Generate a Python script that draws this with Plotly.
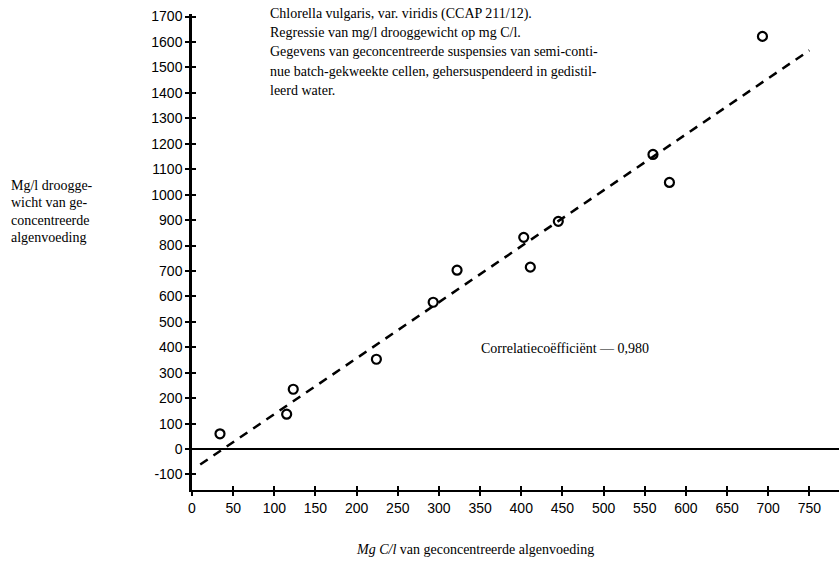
import plotly.graph_objects as go

# Measured pairs: carbon content (mg C/l) vs dry weight (mg/l)
carbon_mg_l = [34, 115, 123, 224, 293, 322, 403, 411, 445, 560, 580, 693]
dry_weight_mg_l = [60, 137, 235, 353, 577, 703, 832, 715, 895, 1158, 1048, 1622]

# Regression of dry weight on carbon
reg_slope = 2.2
reg_intercept = -83.0
reg_x = [10, 750]

x_ticks = list(range(0, 751, 50))
y_ticks = list(range(-100, 1701, 100))

info_lines = [
    "Chlorella vulgaris, var. viridis (CCAP 211/12).",
    "Regressie van mg/l drooggewicht op mg C/l.",
    "Gegevens van geconcentreerde suspensies van semi-conti-",
    "nue batch-gekweekte cellen, gehersuspendeerd in gedistil-",
    "leerd water.",
]
ylabel_lines = ["Mg/l droogge-", "wicht van ge-", "concentreerde", "algenvoeding"]
corr_text = "Correlatiecoëfficiënt — 0,980"
xlabel = "<i>Mg C/l</i> van geconcentreerde algenvoeding"

W, H = 839, 564
ML, MR, MT, MB = 192, 0, 14, 74
PW, PH = W - ML - MR, H - MT - MB


def px(xp):
    return (xp - ML) / PW


def py(yp):
    return 1 - (yp - MT) / PH


serif = "Liberation Serif"
sans = "Liberation Sans"

fig = go.Figure()

reg_y = [reg_intercept + reg_slope * v for v in reg_x]
fig.add_trace(go.Scatter(
    x=reg_x, y=reg_y, mode="lines",
    line=dict(color="black", width=2.5, dash="9px,7px"),
    hoverinfo="skip", showlegend=False,
))

# zero line across the full width
fig.add_trace(go.Scatter(
    x=[0, 790], y=[0, 0], mode="lines",
    line=dict(color="black", width=2),
    hoverinfo="skip", showlegend=False,
))

fig.add_trace(go.Scatter(
    x=carbon_mg_l, y=dry_weight_mg_l, mode="markers",
    marker=dict(symbol="circle-open", size=9, color="black", line=dict(width=2.2)),
    showlegend=False,
))

annotations = []
for i, t in enumerate(info_lines):
    annotations.append(dict(
        text=t, xref="paper", yref="paper", x=px(268), y=py(14 + 19 * i),
        xanchor="left", yanchor="middle", showarrow=False,
        font=dict(family=serif, size=14, color="black"),
    ))
for i, t in enumerate(ylabel_lines):
    annotations.append(dict(
        text=t, xref="paper", yref="paper", x=px(9), y=py(185 + 17.5 * i),
        xanchor="left", yanchor="middle", showarrow=False,
        font=dict(family=serif, size=14, color="black"),
    ))
annotations.append(dict(
    text=corr_text, xref="paper", yref="paper", x=px(479), y=py(348),
    xanchor="left", yanchor="middle", showarrow=False,
    font=dict(family=serif, size=14, color="black"),
))
annotations.append(dict(
    text=xlabel, xref="paper", yref="paper", x=px(475), y=py(549),
    xanchor="center", yanchor="middle", showarrow=False,
    font=dict(family=serif, size=14, color="black"),
))

tick_font = dict(family=sans, size=14, color="black")

fig.update_layout(
    width=W, height=H,
    margin=dict(l=ML, r=MR, t=MT, b=MB),
    paper_bgcolor="white", plot_bgcolor="white",
    annotations=annotations,
    xaxis=dict(
        range=[0, 786], tickvals=x_ticks, ticktext=[str(v) for v in x_ticks],
        showgrid=False, zeroline=False, showline=True, linecolor="black", linewidth=2,
        ticks="outside", ticklen=4, tickwidth=1.5, tickcolor="black",
        tickfont=tick_font,
    ),
    xaxis2=dict(
        range=[0, 786], overlaying="x", side="bottom", tickvals=x_ticks,
        showticklabels=False, showgrid=False, zeroline=False, showline=False,
        ticks="inside", ticklen=4, tickwidth=1.5, tickcolor="black",
    ),
    yaxis=dict(
        range=[-161, 1710], tickvals=y_ticks, ticktext=[str(v) for v in y_ticks],
        showgrid=False, zeroline=False, showline=True, linecolor="black", linewidth=2.5,
        ticks="outside", ticklen=4, tickwidth=1.5, tickcolor="black",
        tickfont=tick_font,
    ),
    yaxis2=dict(
        range=[-161, 1710], overlaying="y", side="left", tickvals=y_ticks,
        showticklabels=False, showgrid=False, zeroline=False, showline=False,
        ticks="inside", ticklen=4, tickwidth=1.5, tickcolor="black",
    ),
)

# invisible trace that activates the secondary axes carrying the inner tick halves
fig.add_trace(go.Scatter(x=[0], y=[0], xaxis="x2", yaxis="y2", mode="markers",
                         marker=dict(opacity=0), hoverinfo="skip", showlegend=False))

fig.write_html("out.html")
